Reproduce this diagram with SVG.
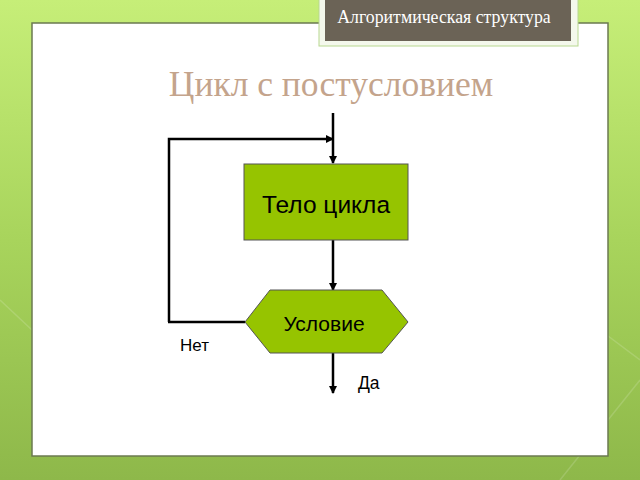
<svg xmlns="http://www.w3.org/2000/svg" width="640" height="480" viewBox="0 0 640 480">
<defs>
<linearGradient id="bg" x1="0" y1="0" x2="0" y2="1">
<stop offset="0" stop-color="#c6ee78"/>
<stop offset="0.5" stop-color="#a8d45c"/>
<stop offset="1" stop-color="#8eb84a"/>
</linearGradient>
<marker id="arr" markerWidth="8" markerHeight="8" refX="7" refY="4" orient="auto" markerUnits="userSpaceOnUse">
<path d="M0,0 L8,4 L0,8 Z" fill="#000"/>
</marker>
<style>
.ln{stroke:#000;stroke-width:2.5;fill:none}
.shape{fill:#96c400;stroke:#555;stroke-width:1}
.lbl{font-family:"Liberation Sans",Arial,sans-serif;fill:#000}
</style>
</defs>
<rect width="640" height="480" fill="url(#bg)"/>
<g opacity="0.15" stroke="#fff" stroke-width="1.5">
<line x1="560" y1="480" x2="640" y2="380"/>
<line x1="600" y1="330" x2="640" y2="360"/>
<line x1="0" y1="300" x2="32" y2="330"/>
</g>
<rect x="32" y="23" width="576" height="433" fill="#fff" stroke="#6b7a50" stroke-width="1.5"/>
<g id="header">
<rect x="319" y="-2" width="259" height="48" fill="#f4f8ec" stroke="#b8d890" stroke-width="1"/>
<rect x="325" y="-2" width="246" height="43" fill="#6b6356"/>
<text x="444" y="23" text-anchor="middle" font-family="Liberation Serif,'Times New Roman',serif" font-size="17.8" fill="#fff">Алгоритмическая структура</text>
</g>
<text x="331" y="96" text-anchor="middle" font-family="Liberation Serif,'Times New Roman',serif" font-size="35.5" fill="#c4a48c">Цикл с постусловием</text>
<g id="connectors">
<line class="ln" x1="333" y1="113" x2="333" y2="163" marker-end="url(#arr)"/>
<polyline class="ln" points="169,322 169,139 333,139" marker-end="url(#arr)"/>
<line class="ln" x1="333" y1="240" x2="333" y2="290" marker-end="url(#arr)"/>
<line class="ln" x1="245" y1="322" x2="168" y2="322"/>
<line class="ln" x1="333" y1="353" x2="333" y2="393" marker-end="url(#arr)"/>
</g>
<g id="body">
<rect class="shape" x="244" y="164" width="164" height="76"/>
<text class="lbl" x="326" y="213" text-anchor="middle" font-size="24.5">Тело цикла</text>
</g>
<g id="cond">
<polygon class="shape" points="245,322 270,290 382,290 408,322 382,353 270,353"/>
<text class="lbl" x="324" y="331" text-anchor="middle" font-size="21">Условие</text>
</g>
<text class="lbl" x="180" y="351" font-size="17">Нет</text>
<text class="lbl" x="358" y="389" font-size="17.5">Да</text>
</svg>
